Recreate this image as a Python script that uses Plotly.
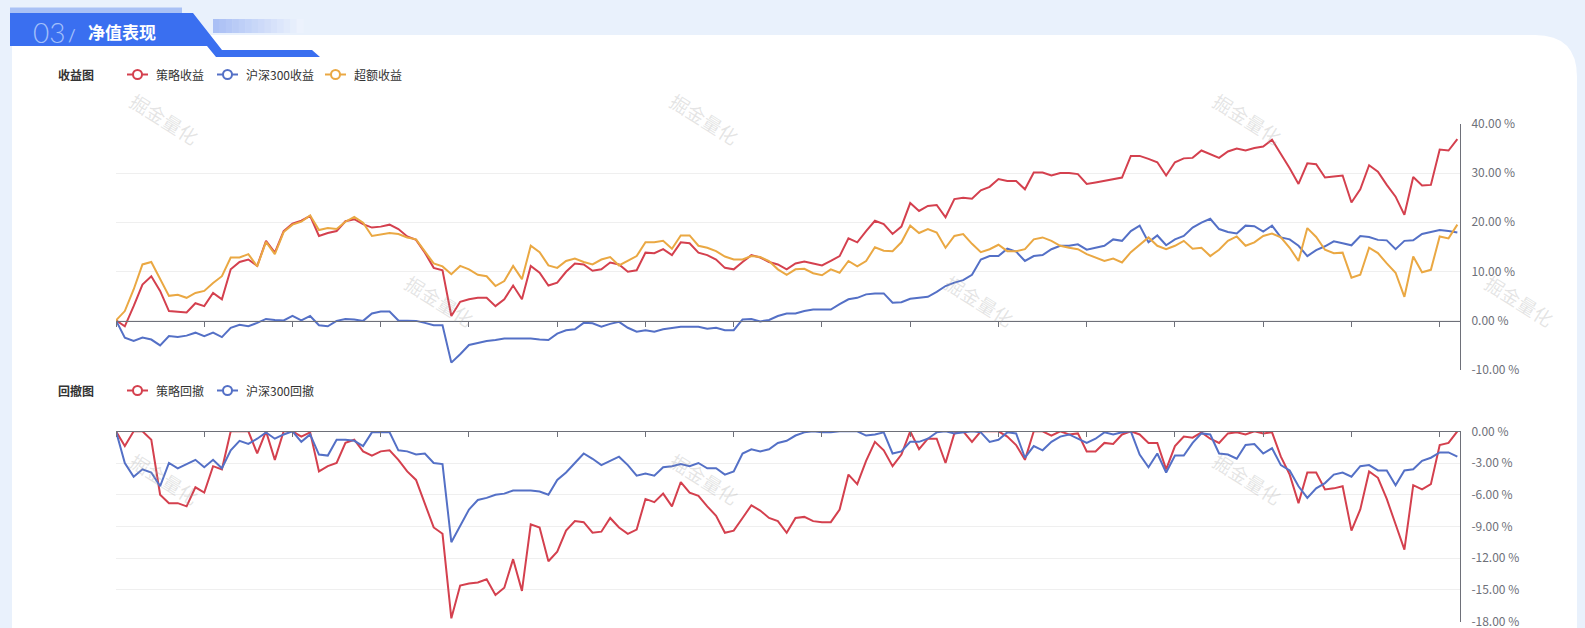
import plotly.graph_objects as go

# ---------------- data (percent) ----------------
strategy_ret = [0.0, -1.2, 2.9, 7.3, 9.0, 6.0, 1.9, 1.8, 1.6, 3.5, 2.9, 5.6, 4.3, 10.4, 11.9, 12.4, 11.1, 16.2, 13.8, 18.2,
                19.7, 20.3, 21.3, 17.2, 17.8, 18.2, 20.2, 20.6, 19.6, 18.9, 19.1, 19.5, 18.6, 17.1, 16.4, 13.8, 10.7, 10.2, 0.9, 3.8,
                4.3, 4.6, 4.6, 2.9, 4.3, 7.1, 4.3, 11.1, 9.7, 7.1, 7.7, 9.9, 11.6, 11.4, 10.1, 10.4, 11.8, 11.4, 9.9, 10.2,
                13.8, 13.7, 14.5, 13.3, 15.9, 15.7, 13.8, 13.3, 12.4, 10.7, 10.4, 11.9, 13.3, 12.8, 11.9, 11.4, 10.4, 11.6, 12.0, 11.6,
                11.2, 12.1, 13.1, 16.7, 15.9, 18.2, 20.3, 19.6, 17.6, 19.1, 23.9, 22.3, 23.3, 23.5, 21.0, 24.7, 25.0, 24.8, 26.5, 27.2,
                28.8, 28.4, 28.4, 26.7, 30.1, 30.1, 29.5, 30.0, 30.0, 29.8, 27.8, 28.1, 28.4, 28.8, 29.1, 33.5, 33.5, 32.9, 32.2, 29.5,
                32.2, 33.0, 33.1, 34.6, 33.9, 33.1, 34.4, 35.0, 34.6, 35.1, 35.4, 36.8, 33.9, 31.0, 27.8, 32.0, 31.8, 29.1, 29.3, 29.5,
                24.0, 26.7, 31.6, 30.3, 27.6, 25.2, 21.5, 29.2, 27.5, 27.6, 34.8, 34.6, 36.9]
hs300_ret = [0.0, -3.5, -4.2, -3.5, -3.9, -5.1, -3.2, -3.4, -3.1, -2.5, -3.2, -2.5, -3.4, -1.5, -0.9, -1.2, -0.5, 0.3, 0.1, 0.0,
             0.9, 0.0, 0.9, -1.0, -1.2, -0.1, 0.3, 0.2, -0.1, 1.4, 1.8, 1.8, 0.0, 0.0, -0.1, -0.5, -1.0, -1.0, -8.6, -6.9,
             -5.0, -4.6, -4.2, -4.0, -3.7, -3.7, -3.7, -3.7, -3.9, -4.0, -2.7, -2.0, -1.8, -0.5, -0.6, -1.3, -0.7, -0.3, -1.5, -2.3,
             -2.0, -2.3, -1.8, -1.5, -1.3, -1.3, -1.3, -1.7, -1.5, -2.0, -2.0, 0.2, 0.3, -0.2, 0.1, 0.9, 1.4, 1.4, 1.9, 2.2,
             2.2, 2.2, 3.3, 4.3, 4.6, 5.3, 5.5, 5.5, 3.6, 3.7, 4.4, 4.6, 4.8, 5.8, 7.0, 7.7, 8.2, 9.3, 12.4, 13.1,
             13.1, 14.6, 14.0, 12.1, 13.1, 13.3, 14.5, 15.2, 15.2, 15.5, 14.4, 14.8, 15.2, 16.5, 16.2, 18.2, 19.3, 15.9, 17.3, 15.3,
             16.5, 17.2, 18.9, 19.9, 20.7, 18.6, 18.0, 17.7, 19.3, 19.2, 18.1, 19.3, 16.9, 16.5, 15.2, 13.1, 14.3, 15.1, 16.1, 15.7,
             15.3, 17.2, 17.0, 16.4, 16.3, 14.5, 16.2, 16.3, 17.6, 18.0, 18.4, 18.2, 17.9]
excess_ret = [0.0, 1.9, 6.3, 11.4, 11.9, 8.4, 5.0, 5.2, 4.6, 5.6, 6.0, 7.6, 9.0, 12.8, 12.8, 13.5, 11.0, 16.0, 13.5, 18.0,
              19.5, 20.1, 21.4, 18.4, 18.8, 18.6, 20.1, 21.1, 19.9, 17.2, 17.5, 17.8, 17.6, 16.9, 16.5, 14.1, 11.6, 11.0, 9.4, 11.1,
              10.4, 9.3, 9.0, 7.0, 8.0, 11.1, 8.4, 15.2, 13.9, 11.2, 10.7, 12.1, 12.6, 11.9, 11.4, 12.4, 12.9, 11.2, 12.1, 13.1,
              15.9, 15.9, 16.2, 14.6, 17.3, 17.3, 15.2, 14.8, 14.1, 13.0, 12.4, 12.4, 13.1, 12.9, 12.1, 10.4, 9.3, 10.4, 10.5, 9.6,
              9.2, 10.4, 9.7, 12.1, 11.0, 12.1, 14.9, 14.2, 14.1, 15.9, 19.3, 17.8, 18.6, 17.9, 14.8, 17.2, 17.6, 15.6, 13.9, 14.5,
              15.4, 14.1, 14.1, 14.5, 16.5, 16.9, 16.2, 15.2, 14.8, 14.5, 13.5, 12.8, 12.1, 12.6, 11.8, 13.9, 15.5, 16.9, 15.2, 14.5,
              15.2, 16.2, 14.6, 14.8, 13.1, 14.4, 16.2, 17.1, 15.2, 15.9, 17.2, 17.7, 16.9, 14.8, 12.1, 18.8, 17.0, 14.4, 13.7, 13.8,
              8.7, 9.3, 14.8, 13.7, 11.6, 9.7, 4.8, 13.0, 9.8, 10.3, 17.1, 16.7, 19.5]
strategy_dd = [0, -1.4, 0, 0, -0.8, -6.0, -6.8, -6.8, -7.1, -5.3, -5.8, -3.3, -3.6, 0, 0, 0, -2.1, 0, -2.7, 0,
               0, -0.5, -0.1, -3.8, -3.3, -3.0, -1.1, -0.8, -1.9, -2.3, -1.9, -1.8, -2.7, -3.8, -4.6, -6.8, -9.1, -9.7, -17.7, -14.6,
               -14.4, -14.3, -14.0, -15.5, -14.8, -12.1, -15.1, -8.8, -9.1, -12.3, -11.4, -9.4, -8.5, -8.6, -9.6, -9.5, -8.2, -9.1, -9.7, -9.3,
               -6.4, -6.7, -5.9, -7.1, -4.8, -5.8, -6.1, -7.1, -8.0, -9.6, -9.4, -8.2, -7.0, -7.5, -8.2, -8.5, -9.6, -8.2, -8.1, -8.5,
               -8.6, -8.6, -7.4, -4.1, -5.0, -2.8, -1.0, -1.8, -3.3, -2.2, 0, -1.7, -0.7, -0.7, -3.0, -0.2, 0, -1.0, 0, 0,
               0, -0.5, -1.3, -2.7, 0, 0, -0.4, 0, -0.3, -0.2, -1.9, -1.9, -1.1, -1.2, -0.3, 0, -0.3, -1.1, -1.1, -3.6,
               -1.4, -0.5, -0.6, -0.1, -0.7, -1.1, -0.2, -0.1, -0.3, 0, -0.2, -0.1, -2.4, -4.1, -6.8, -3.9, -3.9, -5.5, -5.4, -5.2,
               -9.4, -7.4, -3.8, -4.4, -6.4, -8.8, -11.2, -5.1, -5.5, -5.0, -1.3, -1.1, 0]
hs300_dd = [0, -3.0, -4.3, -3.6, -3.9, -5.2, -3.0, -3.5, -3.1, -2.7, -3.4, -2.7, -3.5, -1.8, -0.9, -1.2, -0.7, -0.1, -0.7, -0.3,
            0, -1.0, -0.3, -2.2, -2.3, -0.8, -0.8, -0.9, -1.4, -0.1, -0.1, -0.1, -1.8, -1.9, -2.2, -2.1, -3.0, -3.1, -10.5, -8.9,
            -7.4, -6.5, -6.3, -6.0, -5.9, -5.6, -5.6, -5.6, -5.7, -6.0, -4.6, -3.9, -3.0, -2.1, -2.6, -3.2, -2.8, -2.4, -3.2, -4.2,
            -4.0, -4.2, -3.4, -3.3, -3.1, -3.3, -3.0, -3.5, -3.5, -4.1, -3.8, -2.1, -1.7, -1.9, -1.7, -1.1, -0.9, -0.4, -0.1, 0,
            -0.1, -0.1, 0, 0, 0, -0.4, -0.3, -0.1, -2.1, -1.9, -1.0, -1.0, -0.7, -0.1, 0, -0.2, -0.1, 0, -0.1, -1.0,
            -0.8, -0.1, -0.2, -2.5, -1.4, -1.8, -1.0, -0.5, -0.3, -0.7, -1.1, -0.7, -0.1, -0.3, -0.1, 0, -2.2, -3.4, -2.1, -3.9,
            -2.3, -2.3, -1.1, -0.2, -0.3, -2.1, -2.2, -2.6, -1.3, -1.2, -2.1, -1.6, -3.2, -3.7, -5.2, -6.3, -5.4, -4.9, -4.1, -3.9,
            -4.3, -3.3, -3.2, -3.7, -3.7, -5.1, -3.7, -3.6, -2.8, -2.5, -2.0, -2.0, -2.4]
days = list(range(len(strategy_ret)))

ret_ticks = [-10, 0, 10, 20, 30, 40]
dd_ticks = [-18, -15, -12, -9, -6, -3, 0]
legend_top = ["策略收益", "沪深300收益", "超额收益"]
legend_bottom = ["策略回撤", "沪深300回撤"]

RED, BLUE, ORANGE = "#d4404e", "#5470c6", "#eaa843"
FONT = "Noto Sans CJK SC"

W, H = 1585, 628
def X(px): return px / W
def Y(py): return 1 - py / H

fig = go.Figure()
for name, vals, col in [(legend_top[0], strategy_ret, RED), (legend_top[1], hs300_ret, BLUE), (legend_top[2], excess_ret, ORANGE)]:
    fig.add_trace(go.Scatter(x=days, y=vals, mode="lines", name=name, line=dict(color=col, width=2),
                             xaxis="x", yaxis="y", showlegend=False))
for name, vals, col in [(legend_bottom[0], strategy_dd, RED), (legend_bottom[1], hs300_dd, BLUE)]:
    fig.add_trace(go.Scatter(x=days, y=vals, mode="lines", name=name, line=dict(color=col, width=2),
                             xaxis="x2", yaxis="y2", showlegend=False))

xr = [0, 152.3]
xdom = [X(116), X(1460)]
ax_common = dict(range=xr, domain=xdom, showgrid=False, zeroline=False, showline=True, linecolor="#6e7079",
                 linewidth=1, ticks="outside", ticklen=5, tickcolor="#6e7079", tickvals=list(range(0, 151, 10)),
                 showticklabels=False, anchor="free", automargin=False)
yax_common = dict(side="right", automargin=False, showgrid=True, gridcolor="#efefef", gridwidth=1, zeroline=False,
                  showline=True, linecolor="#6e7079", ticks="", ticklabelstandoff=8, ticklabeloverflow="allow",
                  tickfont=dict(size=12, color="#6e7079", family=FONT))
fig.update_layout(
    width=W, height=H, margin=dict(l=0, r=0, t=0, b=0, autoexpand=False),
    paper_bgcolor="#e9f1fc", plot_bgcolor="rgba(0,0,0,0)",
    font=dict(family=FONT, color="#666"),
    xaxis=dict(ax_common, position=Y(320.5)),
    xaxis2=dict(ax_common, position=Y(431.3)),
    yaxis=dict(yax_common, domain=[Y(369.5), Y(124)], range=[-10, 40], anchor="x",
               tickvals=ret_ticks, ticktext=[f"{v:.2f} %" for v in ret_ticks]),
    yaxis2=dict(yax_common, domain=[Y(621.5), Y(431.3)], range=[-18, 0], anchor="x2",
                tickvals=dd_ticks, ticktext=[f"{v:.2f} %" for v in dd_ticks]),
)

def path(pts):
    return "M " + " L ".join(f"{X(a):.5f},{Y(b):.5f}" for a, b in pts) + " Z"

shapes = []
# white card with rounded top-right corner
card = (f"M {X(12):.5f},{Y(35):.5f} L {X(1535):.5f},{Y(35):.5f} "
        f"Q {X(1577):.5f},{Y(35):.5f} {X(1577):.5f},{Y(77):.5f} "
        f"L {X(1577):.5f},{Y(640):.5f} L {X(12):.5f},{Y(640):.5f} Z")
shapes.append(dict(type="path", path=card, xref="paper", yref="paper", fillcolor="white",
                   line=dict(width=0), layer="below"))
# header banner
shapes.append(dict(type="rect", x0=X(10), x1=X(182), y0=Y(13), y1=Y(7.5), xref="paper", yref="paper",
                   fillcolor="#a9c1f5", line=dict(width=0), layer="below"))
shapes.append(dict(type="path", path=path([(10, 13), (193, 13), (222, 50), (312, 50), (320, 57), (216, 57), (207, 46), (10, 46)]),
                   xref="paper", yref="paper", fillcolor="#3a6ff0", line=dict(width=0), layer="below"))
# gradient bar
n = 14
c0, c1 = (170, 192, 245), (236, 242, 253)
for k in range(n):
    t = k / (n - 1)
    col = tuple(int(c0[j] + (c1[j] - c0[j]) * t) for j in range(3))
    shapes.append(dict(type="rect", x0=X(213 + 90 * k / n), x1=X(213 + 90 * (k + 1) / n + 0.5), y0=Y(33), y1=Y(19),
                       xref="paper", yref="paper", fillcolor=f"rgb{col}", line=dict(width=0), layer="below"))

annotations = []
def note(text, x, y, size, color, family=FONT, xanchor="center", **kw):
    font = dict(family=family, size=size, color=color)
    font.update(kw.pop("font_extra", {}))
    annotations.append(dict(text=text, x=X(x), y=Y(y), xref="paper", yref="paper", showarrow=False,
                            xanchor=xanchor, yanchor="middle", font=font, **kw))

note("03", 49, 32, 28, "#a3c0fa", family="Lato", font_extra=dict(weight=300))
note("/", 72, 36, 17, "#a3c0fa", family="Lato")
note("<b>净值表现</b>", 122, 31, 17, "white")

def legend(title, ty, items):
    note(f"<b>{title}</b>", 56, ty, 12, "#333", xanchor="left")
    starts = [127, 217, 325]
    for (label, col), sx in zip(items, starts):
        shapes.append(dict(type="line", x0=X(sx), x1=X(sx + 21), y0=Y(ty), y1=Y(ty), xref="paper", yref="paper",
                           line=dict(color=col, width=2)))
        shapes.append(dict(type="circle", x0=X(sx + 10.5 - 4.5), x1=X(sx + 10.5 + 4.5), y0=Y(ty + 4.5), y1=Y(ty - 4.5),
                           xref="paper", yref="paper", fillcolor="white", line=dict(color=col, width=2)))
        note(label, sx + 27, ty, 12, "#333", xanchor="left")

legend("收益图", 74.5, list(zip(legend_top, [RED, BLUE, ORANGE])))
legend("回撤图", 390.5, list(zip(legend_bottom, [RED, BLUE])))

# faint watermarks
for wx, wy in [(165, 118), (705, 118), (1248, 118), (440, 300), (980, 300), (1520, 300), (165, 478), (705, 478), (1248, 478)]:
    note("掘金量化", wx, wy, 19, "rgba(160,160,160,0.28)", textangle=32)

fig.update_layout(shapes=shapes, annotations=annotations)
fig.write_html("out.html", config={"displayModeBar": False},
               post_script="document.body.style.margin='0';document.body.style.overflow='hidden';")
